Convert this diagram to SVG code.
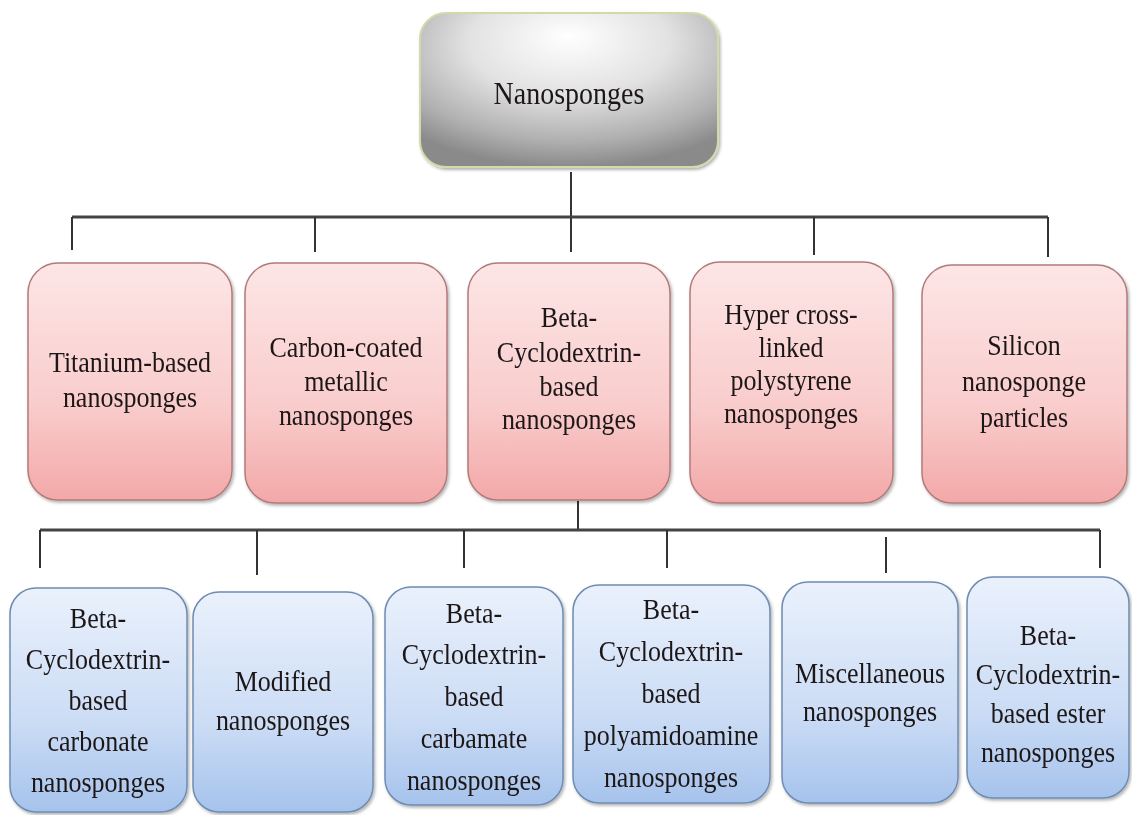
<svg xmlns="http://www.w3.org/2000/svg" width="1132" height="815" viewBox="0 0 1132 815">
<defs>
  <radialGradient id="gTop" cx="50%" cy="25%" r="75%" fx="50%" fy="15%">
    <stop offset="0" stop-color="#ffffff"/>
    <stop offset="0.45" stop-color="#e2e2e2"/>
    <stop offset="0.8" stop-color="#b0b0b0"/>
    <stop offset="1" stop-color="#8a8a8a"/>
  </radialGradient>
  <linearGradient id="gPink" x1="0" y1="0" x2="0" y2="1">
    <stop offset="0" stop-color="#fde6e6"/>
    <stop offset="0.6" stop-color="#f9cccc"/>
    <stop offset="1" stop-color="#f3a8a8"/>
  </linearGradient>
  <linearGradient id="gBlue" x1="0" y1="0" x2="0" y2="1">
    <stop offset="0" stop-color="#eaf1fc"/>
    <stop offset="0.6" stop-color="#cbdcf5"/>
    <stop offset="1" stop-color="#a6c3ec"/>
  </linearGradient>
  <filter id="sh" x="-10%" y="-10%" width="120%" height="120%">
    <feDropShadow dx="1.5" dy="2" stdDeviation="1.5" flood-color="#000" flood-opacity="0.3"/>
  </filter>
</defs>
<style>
  .top { fill: url(#gTop); stroke: #cfdca8; stroke-width: 2; }
  .pink { fill: url(#gPink); stroke: #b27a7a; stroke-width: 1.5; }
  .blue { fill: url(#gBlue); stroke: #6f8cb3; stroke-width: 1.5; }
  text { font-family: "Liberation Serif", "Times New Roman", serif; font-size: 26px; fill: #1e1818; text-anchor: middle; }
  .t1 { font-size: 26px; }
  .c line { stroke: #333333; stroke-width: 2; fill: none; }
  .c .main { stroke: #444444; stroke-width: 3; }
</style>
<rect width="1132" height="815" fill="#ffffff"/>

<g class="c" id="connectors">
  <line x1="571" y1="172" x2="571" y2="252"/>
  <line class="main" x1="72" y1="217" x2="1048" y2="217"/>
  <line x1="72" y1="217" x2="72" y2="250"/>
  <line x1="315" y1="217" x2="315" y2="252"/>
  <line x1="814" y1="217" x2="814" y2="255"/>
  <line x1="1048" y1="217" x2="1048" y2="257"/>
  <line x1="578" y1="501" x2="578" y2="530"/>
  <line class="main" x1="40" y1="530" x2="1100" y2="530"/>
  <line x1="40" y1="530" x2="40" y2="568"/>
  <line x1="257" y1="530" x2="257" y2="575"/>
  <line x1="464" y1="530" x2="464" y2="568"/>
  <line x1="667" y1="530" x2="667" y2="568"/>
  <line x1="886" y1="537" x2="886" y2="573"/>
  <line x1="1100" y1="530" x2="1100" y2="568"/>
</g>

<g id="n-root" filter="url(#sh)">
  <rect class="top" x="420" y="13" width="298" height="154" rx="26"/>
  <text transform="translate(569,104) scale(1,1.15)" style="font-size:28px">Nanosponges</text>
</g>

<g id="n-titanium" filter="url(#sh)">
  <rect class="pink" x="28" y="263" width="204" height="237" rx="30"/>
  <text class="t1" transform="translate(130,372) scale(1,1.15)">Titanium-based</text>
  <text class="t1" transform="translate(130,407) scale(1,1.15)">nanosponges</text>
</g>
<g id="n-carbon" filter="url(#sh)">
  <rect class="pink" x="245" y="263" width="202" height="240" rx="30"/>
  <text class="t1" transform="translate(346,357) scale(1,1.15)">Carbon-coated</text>
  <text class="t1" transform="translate(346,391) scale(1,1.15)">metallic</text>
  <text class="t1" transform="translate(346,425) scale(1,1.15)">nanosponges</text>
</g>
<g id="n-beta" filter="url(#sh)">
  <rect class="pink" x="468" y="263" width="202" height="237" rx="30"/>
  <text class="t1" transform="translate(569,327) scale(1,1.15)">Beta-</text>
  <text class="t1" transform="translate(569,362) scale(1,1.15)">Cyclodextrin-</text>
  <text class="t1" transform="translate(569,396) scale(1,1.15)">based</text>
  <text class="t1" transform="translate(569,429) scale(1,1.15)">nanosponges</text>
</g>
<g id="n-hyper" filter="url(#sh)">
  <rect class="pink" x="690" y="262" width="203" height="241" rx="30"/>
  <text class="t1" transform="translate(791,324) scale(1,1.15)">Hyper cross-</text>
  <text class="t1" transform="translate(791,357) scale(1,1.15)">linked</text>
  <text class="t1" transform="translate(791,390) scale(1,1.15)">polystyrene</text>
  <text class="t1" transform="translate(791,423) scale(1,1.15)">nanosponges</text>
</g>
<g id="n-silicon" filter="url(#sh)">
  <rect class="pink" x="922" y="265" width="205" height="238" rx="30"/>
  <text class="t1" transform="translate(1024,355) scale(1,1.15)">Silicon</text>
  <text class="t1" transform="translate(1024,391) scale(1,1.15)">nanosponge</text>
  <text class="t1" transform="translate(1024,427) scale(1,1.15)">particles</text>
</g>

<g id="n-carbonate" filter="url(#sh)">
  <rect class="blue" x="10" y="588" width="177" height="224" rx="26"/>
  <text transform="translate(98,628) scale(1,1.15)">Beta-</text>
  <text transform="translate(98,669) scale(1,1.15)">Cyclodextrin-</text>
  <text transform="translate(98,710) scale(1,1.15)">based</text>
  <text transform="translate(98,751) scale(1,1.15)">carbonate</text>
  <text transform="translate(98,792) scale(1,1.15)">nanosponges</text>
</g>
<g id="n-modified" filter="url(#sh)">
  <rect class="blue" x="193" y="592" width="180" height="220" rx="26"/>
  <text transform="translate(283,691) scale(1,1.15)">Modified</text>
  <text transform="translate(283,730) scale(1,1.15)">nanosponges</text>
</g>
<g id="n-carbamate" filter="url(#sh)">
  <rect class="blue" x="385" y="587" width="178" height="218" rx="26"/>
  <text transform="translate(474,623) scale(1,1.15)">Beta-</text>
  <text transform="translate(474,664) scale(1,1.15)">Cyclodextrin-</text>
  <text transform="translate(474,706) scale(1,1.15)">based</text>
  <text transform="translate(474,748) scale(1,1.15)">carbamate</text>
  <text transform="translate(474,790) scale(1,1.15)">nanosponges</text>
</g>
<g id="n-polyamido" filter="url(#sh)">
  <rect class="blue" x="573" y="585" width="197" height="218" rx="26"/>
  <text transform="translate(671,619) scale(1,1.15)">Beta-</text>
  <text transform="translate(671,661) scale(1,1.15)">Cyclodextrin-</text>
  <text transform="translate(671,703) scale(1,1.15)">based</text>
  <text transform="translate(671,745) scale(1,1.15)">polyamidoamine</text>
  <text transform="translate(671,787) scale(1,1.15)">nanosponges</text>
</g>
<g id="n-misc" filter="url(#sh)">
  <rect class="blue" x="782" y="582" width="176" height="221" rx="26"/>
  <text transform="translate(870,683) scale(1,1.15)">Miscellaneous</text>
  <text transform="translate(870,721) scale(1,1.15)">nanosponges</text>
</g>
<g id="n-ester" filter="url(#sh)">
  <rect class="blue" x="967" y="577" width="162" height="221" rx="26"/>
  <text transform="translate(1048,645) scale(1,1.15)">Beta-</text>
  <text transform="translate(1048,684) scale(1,1.15)">Cyclodextrin-</text>
  <text transform="translate(1048,723) scale(1,1.15)">based ester</text>
  <text transform="translate(1048,762) scale(1,1.15)">nanosponges</text>
</g>
</svg>
